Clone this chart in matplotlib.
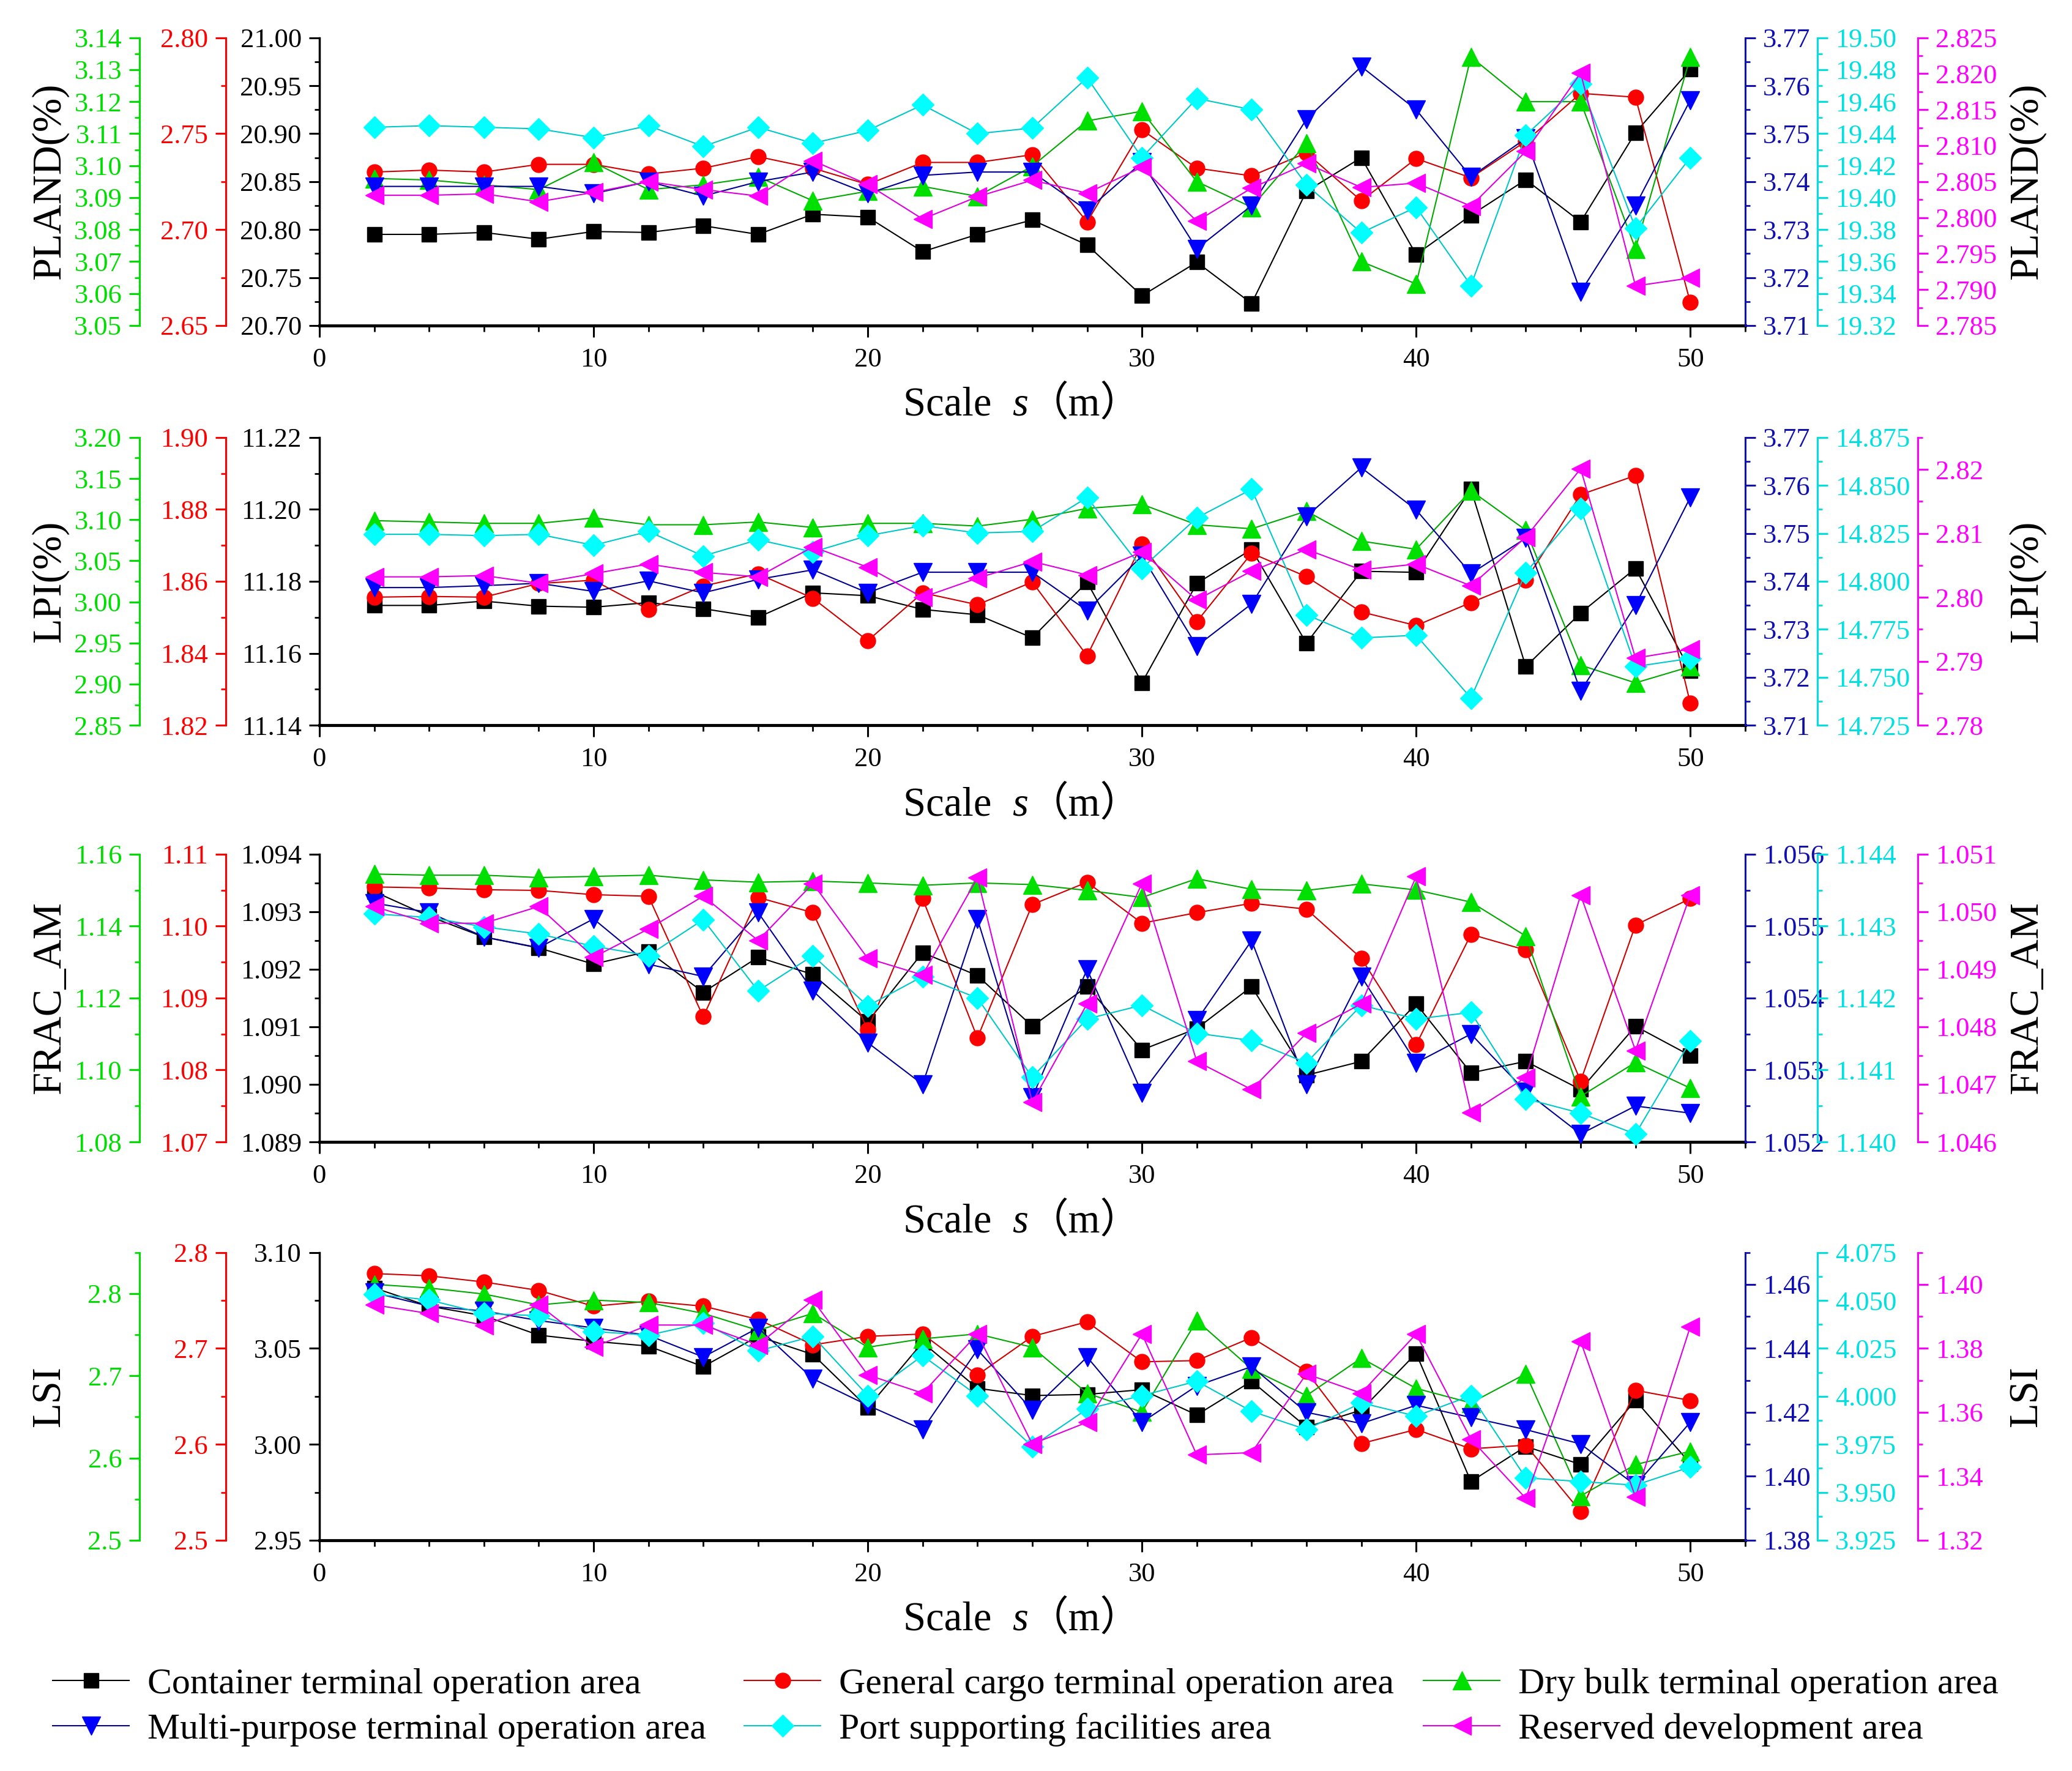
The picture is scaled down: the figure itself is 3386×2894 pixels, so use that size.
import matplotlib
matplotlib.use('Agg')
import matplotlib.pyplot as plt
from matplotlib.ticker import MultipleLocator, FormatStrFormatter
from matplotlib.offsetbox import TextArea, HPacker, AnchoredOffsetbox

FAM = ['Liberation Serif', 'Noto Sans CJK SC']
plt.rcParams['font.family'] = FAM

scale = list(range(2, 51, 2))

area_names = ['Container terminal operation area',
              'General cargo terminal operation area',
              'Dry bulk terminal operation area',
              'Multi-purpose terminal operation area',
              'Port supporting facilities area',
              'Reserved development area']

# PLAND(%)
pland_container = [20.795, 20.795, 20.797, 20.790, 20.798, 20.797, 20.804, 20.795, 20.816, 20.813, 20.777, 20.795, 20.810,
                   20.784, 20.731, 20.766, 20.723, 20.840, 20.875, 20.774, 20.815, 20.852, 20.808, 20.901, 20.967]
pland_general = [2.730, 2.731, 2.730, 2.734, 2.734, 2.729, 2.732, 2.738, 2.732, 2.7235, 2.735, 2.735, 2.739,
                 2.704, 2.752, 2.732, 2.728, 2.740, 2.715, 2.737, 2.727, 2.746, 2.771, 2.769, 2.662]
pland_drybulk = [3.096, 3.0955, 3.094, 3.0925, 3.101, 3.0925, 3.094, 3.0965, 3.089, 3.092, 3.0935, 3.0904, 3.0998,
                 3.114, 3.117, 3.095, 3.087, 3.107, 3.070, 3.063, 3.134, 3.120, 3.120, 3.074, 3.134]
pland_multi = [3.739, 3.739, 3.739, 3.739, 3.7375, 3.740, 3.737, 3.740, 3.742, 3.7375, 3.7413, 3.742, 3.742,
               3.734, 3.744, 3.726, 3.735, 3.753, 3.764, 3.755, 3.741, 3.749, 3.717, 3.735, 3.757]
pland_support = [19.444, 19.445, 19.444, 19.443, 19.4375, 19.445, 19.432, 19.444, 19.434, 19.442, 19.458, 19.440, 19.4435,
                 19.475, 19.425, 19.462, 19.455, 19.408, 19.378, 19.394, 19.345, 19.439, 19.471, 19.381, 19.425]
pland_reserved = [2.8031, 2.8031, 2.8033, 2.8022, 2.8035, 2.8050, 2.8039, 2.8030, 2.8079, 2.8046, 2.7998, 2.8029, 2.8052,
                  2.8034, 2.8070, 2.7995, 2.8041, 2.8075, 2.8042, 2.8048, 2.8016, 2.8092, 2.8201, 2.7905, 2.7916]

# LPI(%)
lpi_container = [11.1733, 11.1733, 11.1745, 11.1731, 11.1728, 11.1741, 11.1724, 11.1700, 11.1768, 11.1760, 11.1722, 11.1707, 11.1643,
                 11.1798, 11.1518, 11.1794, 11.1889, 11.1628, 11.1828, 11.1825, 11.2056, 11.1563, 11.1712, 11.1836, 11.1552]
lpi_general = [1.8556, 1.8558, 1.8556, 1.8594, 1.8603, 1.8522, 1.8587, 1.8621, 1.8553, 1.8435, 1.8568, 1.8535, 1.8598,
               1.8393, 1.8704, 1.8488, 1.8678, 1.8613, 1.8515, 1.8477, 1.8541, 1.8603, 1.8841, 1.8894, 1.8261]
lpi_drybulk = [3.0988, 3.0972, 3.0955, 3.0955, 3.1021, 3.0938, 3.0938, 3.0972, 3.0905, 3.0955, 3.0955, 3.0922, 3.1005,
               3.1137, 3.1187, 3.0938, 3.0889, 3.1104, 3.0739, 3.0640, 3.1353, 3.0872, 2.9230, 2.9015, 2.9213]
lpi_multi = [3.7387, 3.7387, 3.7391, 3.7396, 3.7379, 3.7401, 3.7376, 3.7404, 3.7424, 3.7376, 3.7419, 3.7419, 3.7419,
             3.7339, 3.7453, 3.7265, 3.7353, 3.7535, 3.7637, 3.7549, 3.7416, 3.7490, 3.7171, 3.7350, 3.7575]
lpi_support = [14.8245, 14.8245, 14.8238, 14.8245, 14.8188, 14.8260, 14.8132, 14.8217, 14.8153, 14.8238, 14.8290, 14.8252, 14.8260,
               14.8437, 14.8068, 14.8331, 14.8480, 14.7826, 14.7705, 14.7719, 14.7392, 14.8046, 14.8380, 14.7556, 14.7598]
lpi_reserved = [2.8032, 2.8032, 2.8034, 2.8022, 2.8037, 2.8052, 2.8039, 2.8032, 2.8079, 2.8047, 2.8000, 2.8030, 2.8056,
                2.8035, 2.8071, 2.7996, 2.8041, 2.8075, 2.8043, 2.8052, 2.8018, 2.8094, 2.8201, 2.7905, 2.7919]

# FRAC_AM
frac_container = [1.09335, 1.09292, 1.09256, 1.09237, 1.09209, 1.09231, 1.09160, 1.09221, 1.09191, 1.09109, 1.09229, 1.09189, 1.09101,
                  1.09170, 1.09060, 1.09097, 1.09170, 1.09016, 1.09040, 1.09140, 1.09020, 1.09040, 1.08991, 1.09101, 1.09050]
frac_general = [1.10545, 1.10530, 1.10506, 1.10496, 1.10437, 1.10415, 1.08740, 1.10398, 1.10187, 1.08560, 1.10382, 1.08447, 1.10300,
                1.10610, 1.10040, 1.10187, 1.10317, 1.10236, 1.09553, 1.08350, 1.09885, 1.09667, 1.07846, 1.10015, 1.10382]
frac_drybulk = [1.15447, 1.15415, 1.15415, 1.15350, 1.15382, 1.15415, 1.15285, 1.15220, 1.15252, 1.15200, 1.15135, 1.15200, 1.15154,
                1.14992, 1.14797, 1.15317, 1.15024, 1.14992, 1.15174, 1.15005, 1.14667, 1.13724, 1.09268, 1.10210, 1.09496]
frac_multi = [1.05532, 1.05519, 1.05485, 1.05470, 1.05510, 1.05447, 1.05430, 1.05519, 1.05410, 1.05338, 1.05280, 1.05510, 1.05262,
              1.05440, 1.05268, 1.05369, 1.05480, 1.05280, 1.05430, 1.05310, 1.05350, 1.05270, 1.05211, 1.05250, 1.05240]
frac_support = [1.14317, 1.14312, 1.14299, 1.14289, 1.14272, 1.14259, 1.14309, 1.14210, 1.14259, 1.14189, 1.14230, 1.14200, 1.14090,
                1.14171, 1.14190, 1.14151, 1.14141, 1.14110, 1.14190, 1.14171, 1.14180, 1.14060, 1.14040, 1.14011, 1.14140]
frac_reserved = [1.05009, 1.04980, 1.04980, 1.05009, 1.04921, 1.04970, 1.05027, 1.04950, 1.05049, 1.04919, 1.04890, 1.05059, 1.04669,
                 1.04840, 1.05049, 1.04740, 1.04691, 1.04789, 1.04840, 1.05061, 1.04651, 1.04712, 1.05029, 1.04759, 1.05029]

# LSI
lsi_container = [3.0815, 3.0720, 3.0670, 3.0569, 3.0537, 3.0512, 3.0405, 3.0563, 3.0468, 3.0191, 3.0531, 3.0292, 3.0254,
                 3.0260, 3.0285, 3.0153, 3.0329, 3.0090, 3.0178, 3.0474, 2.9806, 2.9989, 2.9895, 3.0229, 2.9900]
lsi_general = [2.7780, 2.7756, 2.7692, 2.7604, 2.7440, 2.7491, 2.7440, 2.7302, 2.7037, 2.7125, 2.7150, 2.6722, 2.7125,
               2.7277, 2.6860, 2.6873, 2.7113, 2.6760, 2.6008, 2.6155, 2.5953, 2.5991, 2.5298, 2.6563, 2.6457]
lsi_drybulk = [2.8112, 2.8068, 2.7994, 2.7862, 2.7920, 2.7891, 2.7759, 2.7553, 2.7759, 2.7347, 2.7450, 2.7509, 2.7347,
               2.6788, 2.6559, 2.7671, 2.7082, 2.6759, 2.7215, 2.6847, 2.6670, 2.7024, 2.5538, 2.5920, 2.6082]
lsi_multi = [1.4574, 1.4532, 1.4517, 1.4487, 1.4464, 1.4441, 1.4373, 1.4464, 1.4305, 1.4222, 1.4146, 1.4396, 1.4207,
             1.4373, 1.4169, 1.4283, 1.4343, 1.4200, 1.4165, 1.4222, 1.4184, 1.4146, 1.4101, 1.3972, 1.4169]
lsi_support = [4.0533, 4.0502, 4.0432, 4.0420, 4.0338, 4.0319, 4.0382, 4.0237, 4.0313, 4.0004, 4.0212, 4.0004, 3.9739,
               3.9934, 4.0004, 4.0079, 3.9922, 3.9827, 3.9966, 3.9897, 4.0004, 3.9575, 3.9556, 3.9537, 3.9632]
lsi_reserved = [1.3936, 1.3909, 1.3872, 1.3936, 1.3804, 1.3873, 1.3873, 1.3811, 1.3951, 1.3717, 1.3660, 1.3845, 1.3501,
                1.3569, 1.3845, 1.3467, 1.3474, 1.3720, 1.3660, 1.3845, 1.3516, 1.3331, 1.3822, 1.3335, 1.3868]


TICK_FS = 32
YLAB_FS = 48
XLAB_FS = 48
LEG_FS = 43

# line colour, marker colour, marker, marker size
styles = [('#000000', '#000000', 's', 17),
          ('#CC0000', '#FF0000', 'o', 18),
          ('#00A800', '#00E000', '^', 21),
          ('#000090', '#0000FF', 'v', 21),
          ('#00C8C8', '#00FFFF', 'D', 18),
          ('#DD00DD', '#FF00FF', '<', 21)]
axis_colours = ['#000000', '#FF0000', '#00DD00', '#1010B0', '#00E0E0', '#FF00FF']
axis_sides = [('left', 0.0), ('left', -0.0657), ('left', -0.126),
              ('right', 1.0), ('right', 1.0506), ('right', 1.121)]

fig = plt.figure(figsize=(33.87, 28.94), dpi=100)


def draw_panel(bottom, ylabel, series, lims, steps, fmts):
    ax = fig.add_axes([0.1541, bottom, 0.6879, 0.1625])
    axs = [ax] + [ax.twinx() for _ in range(5)]
    handles = []
    for i, (a, vals) in enumerate(zip(axs, series)):
        side, pos = axis_sides[i]
        col = axis_colours[i]
        for s in ['top', 'bottom', 'left', 'right']:
            a.spines[s].set_visible(False)
        a.spines[side].set_visible(True)
        a.spines[side].set_position(('axes', pos))
        a.spines[side].set_color(col)
        a.spines[side].set_linewidth(2.5 if i == 0 else 2.2)
        if side == 'left':
            a.yaxis.tick_left()
        else:
            a.yaxis.tick_right()
        a.set_ylim(*lims[i])
        a.yaxis.set_major_locator(MultipleLocator(steps[i]))
        a.yaxis.set_minor_locator(MultipleLocator(steps[i] / 2))
        a.yaxis.set_major_formatter(FormatStrFormatter(fmts[i]))
        a.tick_params(axis='y', which='major', direction='out', length=12, width=2.2,
                      colors=col, labelsize=TICK_FS, pad=9)
        a.tick_params(axis='y', which='minor', direction='out', length=6, width=2, colors=col)
        lc, mc, mk, ms = styles[i]
        h, = a.plot(scale, vals, color=lc, lw=1.5, marker=mk, ms=ms, mfc=mc, mec=mc, clip_on=False)
        handles.append(h)

    ax.spines['bottom'].set_visible(True)
    ax.spines['bottom'].set_linewidth(3.5)
    ax.set_xlim(0, 52)
    ax.xaxis.set_major_locator(MultipleLocator(10))
    ax.xaxis.set_minor_locator(MultipleLocator(2))
    ax.tick_params(axis='x', which='major', direction='out', length=14, width=2.2,
                   labelsize=TICK_FS, pad=12)
    ax.tick_params(axis='x', which='minor', direction='out', length=7, width=2)

    # x label: Scale  s（m）
    parts = [TextArea('Scale  ', textprops=dict(fontsize=XLAB_FS, family=FAM)),
             TextArea('s', textprops=dict(fontsize=XLAB_FS, family=FAM, style='italic')),
             TextArea('（m）', textprops=dict(fontsize=XLAB_FS, family=FAM))]
    box = AnchoredOffsetbox(loc='center', child=HPacker(children=parts, sep=0, pad=0, align='baseline'),
                            bbox_to_anchor=(0.493, -0.275), bbox_transform=ax.transAxes,
                            frameon=False, pad=0, borderpad=0)
    ax.add_artist(box)

    yc = bottom + 0.1625 / 2
    fig.text(0.024, yc, ylabel, rotation=90, ha='center', va='center', fontsize=YLAB_FS)
    fig.text(0.978, yc, ylabel, rotation=90, ha='center', va='center', fontsize=YLAB_FS)
    return handles


handles = draw_panel(
    0.8162, 'PLAND(%)',
    [pland_container, pland_general, pland_drybulk, pland_multi, pland_support, pland_reserved],
    [(20.70, 21.00), (2.65, 2.80), (3.05, 3.14), (3.71, 3.77), (19.32, 19.50), (2.785, 2.825)],
    [0.05, 0.05, 0.01, 0.01, 0.02, 0.005],
    ['%.2f', '%.2f', '%.2f', '%.2f', '%.2f', '%.3f'])

draw_panel(
    0.5905, 'LPI(%)',
    [lpi_container, lpi_general, lpi_drybulk, lpi_multi, lpi_support, lpi_reserved],
    [(11.14, 11.22), (1.82, 1.90), (2.85, 3.20), (3.71, 3.77), (14.725, 14.875), (2.78, 2.825)],
    [0.02, 0.02, 0.05, 0.01, 0.025, 0.01],
    ['%.2f', '%.2f', '%.2f', '%.2f', '%.3f', '%.2f'])

draw_panel(
    0.3552, 'FRAC_AM',
    [frac_container, frac_general, frac_drybulk, frac_multi, frac_support, frac_reserved],
    [(1.089, 1.094), (1.07, 1.11), (1.08, 1.16), (1.052, 1.056), (1.140, 1.144), (1.046, 1.051)],
    [0.001, 0.01, 0.02, 0.001, 0.001, 0.001],
    ['%.3f', '%.2f', '%.2f', '%.3f', '%.3f', '%.3f'])

draw_panel(
    0.1303, 'LSI',
    [lsi_container, lsi_general, lsi_drybulk, lsi_multi, lsi_support, lsi_reserved],
    [(2.95, 3.10), (2.5, 2.8), (2.5, 2.85), (1.38, 1.47), (3.925, 4.075), (1.32, 1.41)],
    [0.05, 0.1, 0.1, 0.02, 0.025, 0.02],
    ['%.2f', '%.1f', '%.1f', '%.2f', '%.3f', '%.2f'])

# legend: three columns of two rows
columns = [(0, 3, 0.0254), (1, 4, 0.359), (2, 5, 0.6867)]
for i, j, x in columns:
    fig.legend([handles[i], handles[j]], [area_names[i], area_names[j]],
               loc='center left', bbox_to_anchor=(x, 0.0362), frameon=False,
               fontsize=LEG_FS, handlelength=2.1, handletextpad=0.5,
               labelspacing=0.32, borderpad=0, borderaxespad=0, numpoints=1)

fig.savefig('out.png', dpi=100)
